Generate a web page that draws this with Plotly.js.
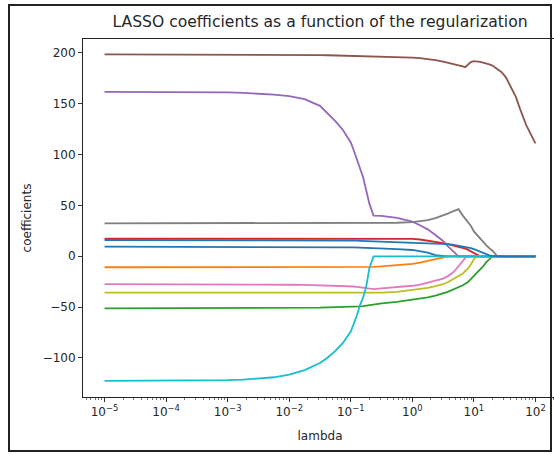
<!DOCTYPE html>
<html><head><meta charset="utf-8">
<script src="https://cdn.plot.ly/plotly-3.0.1.min.js"></script>
<style>
html,body{margin:0;padding:0;background:#fff;overflow:hidden;width:554px;height:454px;}
#wrap{position:relative;width:554px;height:454px;overflow:hidden;background:#fff;}
#chart{position:absolute;left:0;top:0;width:600px;height:454px;}
#frame{position:absolute;left:8px;top:4px;width:540px;height:444px;border:2px solid #222;pointer-events:none;}
</style></head>
<body>
<div id="wrap"><div id="chart"></div><div id="frame"></div></div>
<script>
// regularization strengths (lambda)
const lambdas = [1e-5,1e-4,1e-3,1.78e-3,3.16e-3,5.62e-3,1e-2,1.78e-2,3.16e-2,4.22e-2,
                 5.62e-2,7.5e-2,0.1,0.112,0.126,0.141,0.158,0.178,0.2,0.234,
                 0.316,0.562,1,1.33,1.78,2.37,3.16,3.76,4.47,5.01,
                 5.62,6.61,7.24,7.94,8.91,10,11.2,12.6,14.1,15.8,
                 17.8,20,24,28.2,33.1,39.8,47.9,56.2,70.8,100];

// coefficient paths, one per feature
const coef0 = [9.5,9.5,9.5,9.5,9.5,9.5,9.5,9.5,9.3,9.2,
               9.1,9,8.8,8.7,8.6,8.5,8.4,8.3,8.2,8.0,
               7.9,7.0,6.2,5,3.5,1.2,0,0,0,0,
               0,0,0,0,0,0,0,0,0,0,
               0,0,0,0,0,0,0,0,0,0];
const coef1 = [-10.8,-10.8,-10.8,-10.8,-10.8,-10.8,-10.8,-10.8,-10.8,-10.8,
               -10.8,-10.8,-10.8,-10.7,-10.7,-10.6,-10.6,-10.5,-10.5,-10.4,
               -10,-9,-7.5,-6.2,-4.5,-2.5,-0.8,0,0,0,
               0,0,0,0,0,0,0,0,0,0,
               0,0,0,0,0,0,0,0,0,0];
const coef2 = [-51.2,-51.2,-51,-51,-51,-50.9,-50.8,-50.6,-50.5,-50.3,
               -50.2,-50,-49.8,-49.6,-49.5,-49.2,-49,-48.5,-48,-47.2,
               -46.3,-44.8,-43,-41.8,-40.5,-38.7,-36.5,-35,-33,-31.8,
               -30.5,-28.5,-27,-25.5,-22.5,-19.5,-16.5,-13.5,-10,-6,
               -2.5,0,0,0,0,0,0,0,0,0];
const coef3 = [17.3,17.3,17.3,17.3,17.3,17.3,17.3,17.3,17.3,17.3,
               17.3,17.3,17.3,17.3,17.3,17.3,17.3,17.3,17.3,17.3,
               17.3,17.3,17.2,16.5,15.5,14.3,13,12,11,10.2,
               9.5,8,7.5,6.5,5,3.5,1.7,0,0,0,
               0,0,0,0,0,0,0,0,0,0];
const coef4 = [161.7,161.6,161.2,160.7,160,159,157.5,154.5,148,140.5,
               133,124,112,104,95,87,78,65,52,40,
               39.7,37.8,34,30.5,26.5,21,15,10,5.5,2,
               0,0,0,0,0,0,0,0,0,0,
               0,0,0,0,0,0,0,0,0,0];
const coef5 = [198.5,198.5,198.3,198.3,198.2,198.1,198,197.9,197.8,197.7,
               197.5,197.4,197.2,197.1,197,197,197,196.9,196.8,196.7,
               196.4,196,195.3,194.8,194,193,191.5,190.5,189.5,188.8,
               188,186.8,185.9,188.5,191,192,191.8,191.3,190.5,189.8,
               188.8,187.5,184.5,181,176,167,157,145,129,111];
const coef6 = [-27.3,-27.3,-27.5,-27.6,-27.8,-27.9,-28,-28.2,-28.5,-28.7,
               -29,-29.2,-29.5,-29.7,-30,-30.4,-30.8,-31.2,-31.6,-32.3,
               -31.5,-30.5,-29,-27.8,-26,-24.3,-22,-19.5,-16.5,-13.5,
               -10,-5,-1.5,0,0,0,0,0,0,0,
               0,0,0,0,0,0,0,0,0,0];
const coef7 = [32.4,32.4,32.4,32.4,32.4,32.4,32.4,32.4,32.4,32.4,
               32.4,32.4,32.4,32.4,32.4,32.4,32.4,32.4,32.4,32.4,
               32.5,33,33.5,34.3,35.5,37.5,40,42,44,45.3,
               46.3,40,37,34,30,24.5,21,17,14,11,
               8,5.5,0,0,0,0,0,0,0,0];
const coef8 = [-35.8,-35.8,-35.8,-35.8,-35.8,-35.8,-35.8,-35.8,-35.8,-35.8,
               -35.8,-35.8,-35.8,-35.8,-35.8,-35.8,-35.8,-35.8,-35.8,-35.8,
               -35.8,-35,-33.3,-32.3,-31,-29.3,-27.5,-25.5,-23,-21,
               -19.5,-17,-14.5,-12.5,-8,-3,0,0,0,0,
               0,0,0,0,0,0,0,0,0,0];
const coef9 = [-122.5,-122.3,-121.8,-121.3,-120.5,-119,-116.5,-112,-105,-99.5,
               -93,-85,-74,-67,-58,-48,-41,-30,-12,0,
               0,0,0,0,0,0,0,0,0,0,
               0,0,0,0,0,0,0,0,0,0,
               0,0,0,0,0,0,0,0,0,0];
const coef10 = [16,16,16,16,16,16,16,16,15.9,15.8,
                15.7,15.6,15.5,15.4,15.3,15.2,15.1,15,15,14.9,
                14.7,14.2,13.5,13.3,13,12.8,12.5,12,11.5,11,
                10.5,9.8,9.3,9,8,7,5.8,4.5,3.2,2,
                1,0.4,0,0,0,0,0,0,0,0];

const series = [coef0,coef1,coef2,coef3,coef4,coef5,coef6,coef7,coef8,coef9,coef10];
const colors = ['#1f77b4','#ff7f0e','#2ca02c','#d62728','#9467bd','#8c564b','#e377c2','#7f7f7f','#bcbd22','#17becf','#1f77b4'];

const xTickVals = [1e-5,1e-4,1e-3,1e-2,1e-1,1,10,100];
const xTickText = ['10<sup>−5</sup>','10<sup>−4</sup>','10<sup>−3</sup>','10<sup>−2</sup>','10<sup>−1</sup>','10<sup>0</sup>','10<sup>1</sup>','10<sup>2</sup>'];
const yTickVals = [-100,-50,0,50,100,150,200];

const minorVals = [];
for (let e = -6; e <= 2; e++) for (let m = 2; m <= 9; m++) minorVals.push(m * Math.pow(10, e));

const traces = series.map((y, i) => ({
  x: lambdas, y: y, type: 'scatter', mode: 'lines',
  line: {color: colors[i], width: 1.8}, hoverinfo: 'skip', showlegend: false
}));

const font = {family: 'DejaVu Sans, sans-serif', size: 12, color: '#262626'};
const layout = {
  width: 600, height: 454,
  margin: {l: 83, r: 43, t: 39, b: 57},
  paper_bgcolor: '#fff', plot_bgcolor: '#fff',
  font: font,
  title: {text: 'LASSO coefficients as a function of the regularization', x: 0.5, xref: 'paper', xanchor: 'center',
          y: 1 - 22/454, yref: 'container', yanchor: 'middle', font: {family: 'DejaVu Sans, sans-serif', size: 15.6, color: '#262626'}},
  xaxis: {type: 'log', range: [-5.35, 2.35], tickmode: 'array', tickvals: xTickVals, ticktext: xTickText,
          ticks: 'outside', ticklen: 4, tickwidth: 1, tickcolor: '#333', showgrid: false, zeroline: false,
          showline: true, linecolor: '#222', linewidth: 1, mirror: true,
          minor: {tickmode: 'array', tickvals: minorVals, ticks: 'outside', ticklen: 2, tickwidth: 0.8, tickcolor: '#555', showgrid: false},
          title: {text: 'lambda', standoff: 13, font: font}},
  yaxis: {range: [-138.4, 213.7], tickmode: 'array', tickvals: yTickVals,
          ticks: 'outside', ticklen: 4, tickwidth: 1, tickcolor: '#333', showgrid: false, zeroline: false,
          showline: true, linecolor: '#222', linewidth: 1, mirror: true,
          title: {text: 'coefficients', standoff: 8, font: font}}
};
Plotly.newPlot('chart', traces, layout, {staticPlot: true, displayModeBar: false});
</script>
</body></html>
